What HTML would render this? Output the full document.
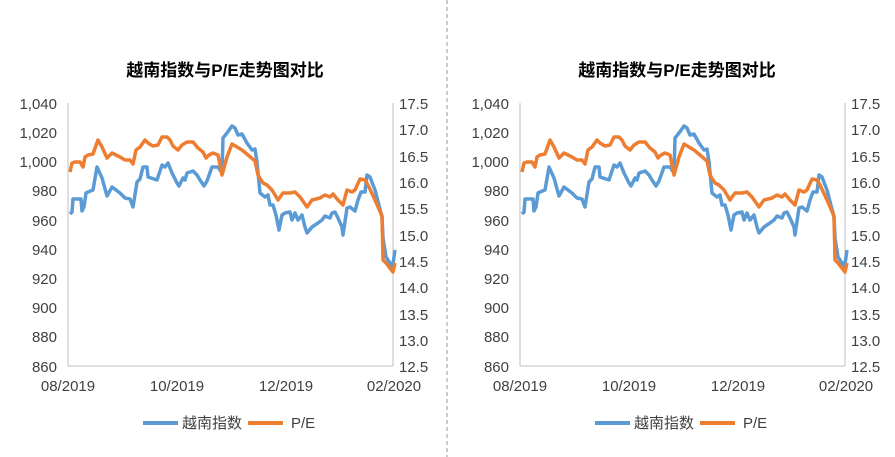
<!DOCTYPE html>
<html><head><meta charset="utf-8"><style>
body{margin:0;background:#fff}
svg{display:block}
text{font-family:"Liberation Sans","Noto Sans CJK SC",sans-serif;fill:#404040}
.t{font-size:17px;font-weight:bold;fill:#000}
.a{font-size:15px}
.l{font-size:15px;fill:#404040}
</style></head><body>
<svg width="895" height="457" viewBox="0 0 895 457">
<line x1="447" y1="0" x2="447" y2="457" stroke="#999" stroke-dasharray="4,3"/>
<g>
<text class="t" x="225" y="76" text-anchor="middle">越南指数与P/E走势图对比</text>
<g class="a" text-anchor="end">
<text x="57" y="109">1,040</text><text x="57" y="138">1,020</text><text x="57" y="167">1,000</text><text x="57" y="196">980</text><text x="57" y="226">960</text><text x="57" y="255">940</text><text x="57" y="284">920</text><text x="57" y="313">900</text><text x="57" y="342">880</text><text x="57" y="372">860</text>
</g>
<g class="a">
<text x="399" y="109">17.5</text><text x="399" y="135">17.0</text><text x="399" y="162">16.5</text><text x="399" y="188">16.0</text><text x="399" y="214">15.5</text><text x="399" y="241">15.0</text><text x="399" y="267">14.5</text><text x="399" y="293">14.0</text><text x="399" y="320">13.5</text><text x="399" y="346">13.0</text><text x="399" y="372">12.5</text>
</g>
<g class="a" text-anchor="middle">
<text x="68" y="391">08/2019</text><text x="177" y="391">10/2019</text><text x="286" y="391">12/2019</text><text x="394" y="391">02/2020</text>
</g>
<line x1="68" y1="366" x2="393" y2="366" stroke="#bfbfbf"/>
<line x1="68" y1="103" x2="68" y2="366" stroke="#bfbfbf"/>
<line x1="393" y1="103" x2="393" y2="366" stroke="#bfbfbf"/>
<polyline fill="none" stroke="#5b9bd5" stroke-width="3.5" stroke-linejoin="round" points="70,214 72,212 73,199 78,199 81,199 82,211 84,207 86,193 88,192 93,190 97,167 102,178 107,196 112,187 120,193 125,198 130,199 133,207 137,182 140,179 143,167 147,167 148,177 157,180 162,165 165,167 168,163 172,173 177,183 179,186 183,178 185,180 187,173 193,171 197,175 200,180 204,186 207,181 212,167 218,167 222,173 223,138 227,133 232,126 235,128 238,135 242,134 247,143 252,150 255,149 257,162 260,193 265,197 268,195 270,205 273,205 276,215 279,230 282,215 285,213 290,212 292,220 295,213 298,220 302,215 305,227 307,233 312,227 318,223 322,220 325,216 330,218 332,213 335,212 338,218 342,227 343,235 347,208 350,207 355,211 358,200 361,192 365,192 367,175 370,177 375,190 382,217 383,238 386,257 390,263 392,268 393,264 395,250"/>
<polyline fill="none" stroke="#ed7d31" stroke-width="3.5" stroke-linejoin="round" points="70,172 72,163 75,162 80,162 83,167 85,157 88,155 93,154 98,140 102,147 107,158 112,153 120,157 125,160 130,160 133,164 136,150 140,147 145,140 148,143 153,146 158,145 162,137 167,137 170,140 173,146 178,150 182,145 187,142 193,142 198,148 203,152 206,158 209,155 213,153 218,155 222,175 227,157 232,144 237,147 242,150 248,155 255,161 258,175 263,183 267,185 272,190 278,200 283,193 290,193 295,192 300,197 307,207 312,200 320,198 325,195 330,197 333,194 338,200 343,205 347,190 352,192 355,190 360,179 365,180 368,185 375,200 382,216 383,260 386,263 393,272 395,263"/>
<line x1="143" y1="423" x2="178" y2="423" stroke="#5b9bd5" stroke-width="4"/>
<text class="l" x="182" y="428">越南指数</text>
<line x1="248" y1="423" x2="283" y2="423" stroke="#ed7d31" stroke-width="4"/>
<text class="l" x="291" y="428">P/E</text>
</g>
<g transform="translate(452,0)">
<text class="t" x="225" y="76" text-anchor="middle">越南指数与P/E走势图对比</text>
<g class="a" text-anchor="end">
<text x="57" y="109">1,040</text><text x="57" y="138">1,020</text><text x="57" y="167">1,000</text><text x="57" y="196">980</text><text x="57" y="226">960</text><text x="57" y="255">940</text><text x="57" y="284">920</text><text x="57" y="313">900</text><text x="57" y="342">880</text><text x="57" y="372">860</text>
</g>
<g class="a">
<text x="399" y="109">17.5</text><text x="399" y="135">17.0</text><text x="399" y="162">16.5</text><text x="399" y="188">16.0</text><text x="399" y="214">15.5</text><text x="399" y="241">15.0</text><text x="399" y="267">14.5</text><text x="399" y="293">14.0</text><text x="399" y="320">13.5</text><text x="399" y="346">13.0</text><text x="399" y="372">12.5</text>
</g>
<g class="a" text-anchor="middle">
<text x="68" y="391">08/2019</text><text x="177" y="391">10/2019</text><text x="286" y="391">12/2019</text><text x="394" y="391">02/2020</text>
</g>
<line x1="68" y1="366" x2="393" y2="366" stroke="#bfbfbf"/>
<line x1="68" y1="103" x2="68" y2="366" stroke="#bfbfbf"/>
<line x1="393" y1="103" x2="393" y2="366" stroke="#bfbfbf"/>
<polyline fill="none" stroke="#5b9bd5" stroke-width="3.5" stroke-linejoin="round" points="70,214 72,212 73,199 78,199 81,199 82,211 84,207 86,193 88,192 93,190 97,167 102,178 107,196 112,187 120,193 125,198 130,199 133,207 137,182 140,179 143,167 147,167 148,177 157,180 162,165 165,167 168,163 172,173 177,183 179,186 183,178 185,180 187,173 193,171 197,175 200,180 204,186 207,181 212,167 218,167 222,173 223,138 227,133 232,126 235,128 238,135 242,134 247,143 252,150 255,149 257,162 260,193 265,197 268,195 270,205 273,205 276,215 279,230 282,215 285,213 290,212 292,220 295,213 298,220 302,215 305,227 307,233 312,227 318,223 322,220 325,216 330,218 332,213 335,212 338,218 342,227 343,235 347,208 350,207 355,211 358,200 361,192 365,192 367,175 370,177 375,190 382,217 383,238 386,257 390,263 392,268 393,264 395,250"/>
<polyline fill="none" stroke="#ed7d31" stroke-width="3.5" stroke-linejoin="round" points="70,172 72,163 75,162 80,162 83,167 85,157 88,155 93,154 98,140 102,147 107,158 112,153 120,157 125,160 130,160 133,164 136,150 140,147 145,140 148,143 153,146 158,145 162,137 167,137 170,140 173,146 178,150 182,145 187,142 193,142 198,148 203,152 206,158 209,155 213,153 218,155 222,175 227,157 232,144 237,147 242,150 248,155 255,161 258,175 263,183 267,185 272,190 278,200 283,193 290,193 295,192 300,197 307,207 312,200 320,198 325,195 330,197 333,194 338,200 343,205 347,190 352,192 355,190 360,179 365,180 368,185 375,200 382,216 383,260 386,263 393,272 395,263"/>
<line x1="143" y1="423" x2="178" y2="423" stroke="#5b9bd5" stroke-width="4"/>
<text class="l" x="182" y="428">越南指数</text>
<line x1="248" y1="423" x2="283" y2="423" stroke="#ed7d31" stroke-width="4"/>
<text class="l" x="291" y="428">P/E</text>
</g>
</svg>
</body></html>
